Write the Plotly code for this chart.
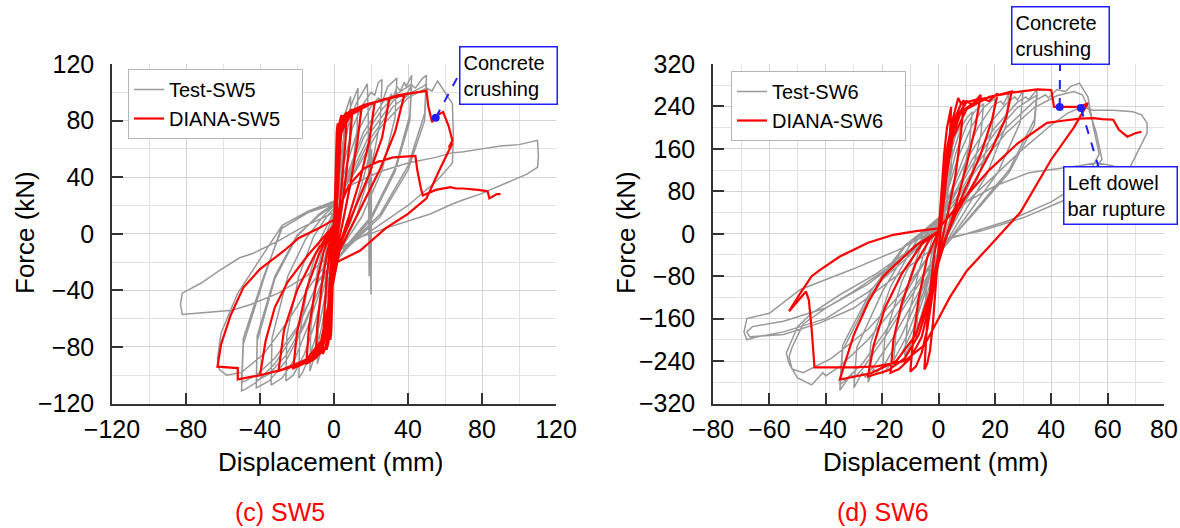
import plotly.graph_objects as go

# ---------------- DATA ----------------
# SW5 test (gray) hysteresis path, (displacement mm, force kN)
sw5_test = [
    (0, 0), (1, 28), (2, 45), (3, 54), (2.6, 38), (1.2, 8), (0, -8), (-1, -28), (-2, -42), (-3, -50), (-2.6, -32), (-1.2, -6), (0, 6),
    (1.5, 35), (3, 60), (4.5, 74), (5.5, 82), (5, 60), (3, 22), (1, -4), (0, -14), (-1.5, -38), (-3, -58), (-4.5, -70), (-5.5, -76), (-5, -55), (-3, -18), (-1, 2), (0, 10),
    (2, 45), (4, 70), (6, 85), (8, 94), (9, 97), (8.5, 70), (6, 32), (3, 5), (0, -14), (-2, -38), (-4, -62), (-6, -78), (-8.5, -90), (-9, -92), (-8.5, -64), (-6, -25), (-3, -2), (0, 12),
    (3, 48), (6, 75), (9, 90), (12, 99), (13, 103), (12.5, 74), (9, 36), (5, 8), (1, -10), (-2, -30), (-6, -62), (-9, -80), (-12, -94), (-13, -97), (-12.5, -66), (-9, -26), (-5, -3), (0, 14),
    (4, 50), (8, 78), (12, 92), (16, 102), (18, 106), (18.5, 85), (19, -30), (19.5, 70), (20, -43), (20.3, 60), (19, 55), (15, 35), (9, 8), (3, -8), (-3, -32), (-8, -65), (-13, -86), (-17, -98), (-19, -102), (-18.5, -70), (-13, -28), (-7, -3), (0, 16),
    (5, 48), (10, 75), (15, 90), (20, 100), (22, 98), (24, 107), (26, 109), (25, 80), (20, 45), (12, 12), (4, -8), (-4, -30), (-10, -62), (-16, -85), (-22, -100), (-26, -104), (-25.5, -72), (-19, -30), (-11, -2), (-4, 12), (0, 18),
    (6, 45), (12, 70), (20, 90), (24, 96), (26, 93), (29, 104), (32, 108), (34, 110), (33, 82), (26, 45), (15, 12), (5, -8), (-5, -30), (-13, -62), (-21, -88), (-28, -102), (-34, -107), (-33.5, -74), (-25, -30), (-15, -3), (-6, 12), (0, 20),
    (8, 45), (16, 72), (26, 92), (28, 96), (29, 93), (31, 99), (32, 96), (34, 104), (36, 101), (38, 107), (39, 104), (42, 112), (41, 84), (33, 46), (20, 12), (7, -8), (-6, -32), (-16, -65), (-26, -90), (-35, -104), (-42, -109), (-41.5, -76), (-32, -32), (-20, -2), (-8, 14), (0, 21),
    (8, 42), (16, 68), (26, 88), (34, 99), (40, 104), (42, 106), (41, 80), (33, 44), (20, 10), (7, -9), (-6, -33), (-16, -63), (-26, -86), (-35, -99), (-42, -104), (-41.5, -72), (-32, -30), (-20, -1), (-8, 13), (0, 20),
    (10, 45), (20, 72), (32, 94), (36, 98), (38, 96), (42, 105), (44, 103), (48, 110), (50, 112), (49, 85), (40, 48), (25, 14), (8, -8), (-8, -32), (-20, -68), (-32, -92), (-42, -105), (-48, -110), (-50, -111), (-49, -78), (-38, -32), (-28, 6), (-14, 16), (0, 22),
    (10, 42), (20, 68), (32, 90), (42, 100), (48, 104), (50, 106), (49, 80), (40, 45), (25, 12), (8, -9), (-8, -33), (-20, -66), (-32, -88), (-42, -100), (-48, -104), (-50, -105), (-49, -74), (-38, -30), (-28, 4), (-14, 15), (0, 21),
    (12, 45), (25, 75), (40, 96), (50, 103), (53, 101), (56, 108), (60, 100), (64, 92), (64.5, 70), (64, 50), (56, 38), (40, 20), (20, 2), (0, -14), (-12, -35), (-25, -62), (-38, -85), (-50, -98), (-58, -100), (-62, -96), (-63, -88), (-61, -70), (-52, -42), (-40, -18), (-28, 6), (-14, 16), (0, 23),
    (10, 35), (25, 44), (40, 50), (55, 54), (63, 57), (70, 58), (80, 60), (90, 62), (100, 63), (106, 65), (110, 66), (110.5, 55), (110, 47), (104, 42), (97, 38), (88, 33), (79, 28), (70, 24), (64, 21), (52, 14), (40, 9), (28, 4), (15, -2), (0, -12),
    (-15, -30), (-30, -42), (-45, -50), (-55, -54), (-63, -55), (-75, -56), (-82, -57), (-83, -50), (-82, -42), (-72, -35), (-62, -26), (-51, -17), (-44, -14), (-30, -5), (-18, 4), (0, 15),
]

# SW5 DIANA (red) path
sw5_diana = [
    (0, 0), (0.5, 30), (1, 55), (1.5, 72), (2, 78), (1.5, 52), (0.8, 20), (0, -5), (-0.5, -30), (-1, -55), (-1.5, -70), (-2, -75), (-1.6, -50), (-0.8, -15), (0, 5),
    (0.8, 35), (1.5, 60), (2.5, 76), (3.5, 82), (4, 84), (3.3, 60), (2, 30), (0.8, 0), (0, -18), (-1, -45), (-2, -65), (-3, -77), (-4, -82), (-3.5, -60), (-2.2, -28), (-1, -5), (0, 8),
    (1, 35), (2, 62), (3.5, 78), (5, 83), (7, 86), (6, 62), (4, 32), (1.8, 5), (0, -20), (-1.5, -48), (-3, -70), (-4.5, -80), (-6, -85), (-5.5, -62), (-4, -32), (-2, -8), (0, 8),
    (1, 32), (2.5, 64), (4, 78), (6, 83), (8, 86), (10, 88), (8.5, 64), (6, 36), (3, 8), (0, -18), (-2, -48), (-4, -70), (-6, -80), (-8, -85), (-10, -88), (-9, -64), (-6.5, -35), (-3.5, -12), (0, 6),
    (1.5, 35), (3, 68), (5, 80), (8, 85), (11, 88), (15, 90), (12.5, 64), (9, 36), (5, 10), (1, -15), (-2, -45), (-4, -70), (-7, -84), (-11, -89), (-15, -92), (-13.5, -66), (-10, -38), (-5.5, -12), (0, 6),
    (1.5, 35), (3, 68), (6, 82), (10, 87), (16, 91), (22, 93), (19, 65), (14, 38), (8, 12), (2, -12), (-2, -45), (-5, -72), (-9, -85), (-15, -91), (-22, -95), (-20, -70), (-15, -40), (-8, -14), (0, 6),
    (1.5, 35), (3.5, 70), (7, 82), (14, 89), (22, 93), (30, 96), (26, 68), (19, 42), (10, 14), (2, -12), (-2, -45), (-5, -72), (-10, -86), (-20, -93), (-30, -97), (-27, -68), (-20, -40), (-10, -14), (0, 6),
    (1.5, 35), (3.5, 70), (8, 83), (16, 90), (27, 95), (38, 98), (33, 72), (25, 46), (14, 17), (3, -12), (-2, -45), (-6, -74), (-12, -87), (-25, -95), (-40, -100), (-37, -76), (-32, -52), (-25, -34), (-14, -15), (0, 6),
    (1.5, 35), (4, 72), (9, 84), (20, 92), (35, 98), (50, 101), (51, 90), (53, 79), (56, 84), (59, 86), (62, 76), (64, 66), (62, 61), (64, 64), (57, 45), (50, 25), (40, 14), (28, 4), (14, -12), (0, -21),
    (-3, -50), (-7, -76), (-15, -89), (-28, -96), (-40, -100), (-52, -103), (-52, -95), (-63, -94), (-61, -78), (-56, -58), (-49, -38), (-40, -25), (-27, -12), (-19, -3), (-8, 4), (0, 10),
    (8, 34), (16, 46), (24, 51), (32, 54), (44, 55), (45, 45), (47, 32), (48, 27), (55, 31), (63, 33), (66, 32), (70, 32), (78, 31), (83, 30), (84, 25), (88, 28), (90, 28),
]

# SW6 test (gray) path
sw6_test = [
    (0, 0), (1, 50), (2, 90), (3, 120), (2.6, 80), (1.3, 20), (0, -20), (-1, -55), (-2, -90), (-3, -110), (-2.6, -70), (-1.2, -15), (0, 15),
    (1.5, 70), (3, 130), (4, 155), (5, 170), (4.4, 120), (2.5, 45), (0.5, -10), (-1, -55), (-2.5, -110), (-4, -145), (-5, -160), (-4.4, -110), (-2.5, -40), (-0.5, 10), (0, 18),
    (2, 80), (4, 145), (6, 185), (8, 205), (7.2, 150), (4.5, 60), (1.5, 0), (-1, -55), (-3, -115), (-5, -160), (-7, -190), (-8, -200), (-7.2, -145), (-4.5, -55), (-1.5, 5), (0, 20),
    (2.5, 80), (5, 150), (8, 200), (10, 218), (12, 230), (11, 170), (7.5, 80), (3, 10), (-1, -50), (-4, -115), (-7, -170), (-10, -210), (-12, -230), (-11, -165), (-7, -70), (-3, 0), (0, 22),
    (3, 80), (6, 150), (10, 205), (13, 232), (16, 245), (15, 185), (11, 95), (5, 20), (-1, -45), (-5, -115), (-9, -180), (-13, -225), (-16, -250), (-15, -180), (-10, -80), (-5, -5), (0, 25),
    (3, 75), (7, 145), (12, 205), (16, 238), (20, 255), (19, 195), (14, 105), (6, 25), (-1, -45), (-6, -120), (-11, -190), (-16, -240), (-20, -265), (-19, -195), (-13, -90), (-6, -10), (0, 28),
    (4, 75), (9, 145), (14, 200), (19, 240), (22, 250), (23, 244), (25, 265), (24, 205), (17, 110), (8, 30), (0, -40), (-7, -120), (-13, -190), (-19, -245), (-22, -262), (-23, -255), (-25, -280), (-24, -205), (-17, -100), (-8, -15), (0, 28),
    (4, 70), (10, 140), (17, 200), (24, 245), (27, 258), (28, 252), (30, 270), (29, 210), (21, 115), (10, 35), (0, -40), (-8, -120), (-16, -195), (-23, -250), (-26, -270), (-27, -262), (-30, -290), (-29, -215), (-20, -110), (-10, -20), (0, 30),
    (5, 70), (12, 140), (20, 200), (28, 248), (31, 258), (32, 253), (35, 272), (34, 215), (25, 120), (12, 38), (0, -38), (-10, -120), (-19, -195), (-27, -255), (-30, -272), (-31, -265), (-35, -295), (-34, -220), (-24, -115), (-12, -25), (0, 30),
    (5, 65), (12, 130), (20, 190), (28, 238), (35, 262), (34, 205), (25, 115), (12, 35), (0, -35), (-10, -112), (-19, -185), (-27, -245), (-35, -285), (-34, -210), (-24, -108), (-12, -22), (0, 28),
    (6, 65), (14, 135), (24, 200), (34, 250), (38, 262), (39, 256), (42, 272), (45, 268), (47, 278), (50, 284), (53, 258), (55, 200), (57, 150), (53, 110), (45, 64), (30, 30), (15, 5), (0, -11),
    (-12, -115), (-25, -200), (-35, -250), (-40, -268), (-41, -262), (-45, -285), (-50, -272), (-53, -245), (-54, -225), (-50, -175), (-45, -150), (-35, -115), (-22, -75), (-10, -30), (0, 15),
    (6, 60), (14, 125), (24, 190), (34, 238), (42, 260), (48, 268), (51, 262), (53, 240), (56, 190), (58, 140), (52, 100), (40, 60), (25, 25), (10, 0), (0, -15),
    (-12, -105), (-25, -180), (-38, -235), (-48, -262), (-52, -255), (-53, -232), (-52, -215), (-48, -170), (-40, -140), (-30, -108), (-18, -65), (-8, -25), (0, 12),
    (10, 60), (20, 110), (30, 160), (40, 205), (46, 228), (51, 239), (55, 233), (62, 233), (69, 230), (72, 224), (74, 209), (74, 190), (71.5, 164), (68, 126), (64, 102),
    (62, 128), (56, 134), (50, 128), (44, 124), (38, 120), (32, 115), (20, 90), (10, 60), (0, 20),
    (-10, -40), (-25, -110), (-40, -160), (-55, -185), (-65, -195), (-68, -200), (-69, -185), (-68, -160), (-60, -150), (-49, -105), (-37, -81), (-31, -68), (-14, -30), (0, 10),
    (-10, -35), (-25, -95), (-40, -140), (-55, -165), (-66, -175), (-68, -185), (-67, -194), (-55, -190), (-42, -168), (-30, -140), (-15, -80), (0, -20),
]

# SW6 DIANA (red) path
sw6_diana = [
    (0, 0), (1, 80), (2, 150), (3, 200), (4, 230), (4.5, 239), (4, 180), (2.5, 90), (1, 20), (0, -30), (-1, -100), (-2, -170), (-3, -220), (-4, -245), (-5, -256), (-4.3, -190), (-3, -110), (-1.5, -40), (0, 5),
    (1.5, 80), (3, 160), (5, 215), (6.5, 245), (7, 256), (8, 245), (9, 252), (8, 190), (6, 110), (3, 30), (0, -40), (-2, -110), (-4, -180), (-6, -225), (-8, -250), (-10, -260), (-9, -200), (-7, -120), (-4, -45), (0, 5),
    (1.5, 80), (3.5, 165), (6, 220), (8, 245), (10, 250), (12, 243), (15, 262), (13, 200), (10, 130), (6, 50), (2, -20), (0, -55), (-3, -130), (-6, -195), (-10, -235), (-14, -255), (-17, -262), (-16, -200), (-13, -130), (-8, -55), (-3, -10), (0, 5),
    (2, 80), (4, 170), (7, 225), (10, 248), (15, 255), (18, 250), (21, 265), (19, 215), (15, 150), (10, 90), (5, 30), (0, -45), (-3, -120), (-7, -190), (-12, -235), (-18, -258), (-25, -269), (-23, -210), (-19, -140), (-13, -75), (-6, -20), (0, 5),
    (2, 80), (4, 170), (8, 230), (14, 252), (20, 260), (26, 268), (24, 220), (19, 160), (13, 100), (6, 35), (0, -40), (-3, -110), (-8, -190), (-15, -240), (-24, -263), (-35, -275), (-33, -240), (-30, -190), (-25, -130), (-19.7, -81), (-16, -62), (-8, -22), (0, 5),
    (2, 80), (5, 180), (10, 235), (18, 258), (26, 266), (35, 272), (40, 271), (41, 239), (43, 239), (50, 239), (53, 246), (48, 200), (40, 140), (29, 40), (18, -24), (10, -70), (4, -120), (0, -160),
    (-5, -210), (-12, -240), (-22, -250), (-30, -252), (-37.5, -252), (-44, -252), (-45, -180), (-46, -125), (-47, -109), (-50, -128), (-53, -146), (-49, -112), (-45, -80), (-42, -68), (-35, -43), (-25, -17), (-16, -2), (-8, 5), (0, 10),
    (8, 60), (18, 120), (28, 170), (38.5, 209), (44, 213), (50, 217), (55, 218), (58, 216), (62, 215), (64, 196), (67, 183), (70, 190), (72, 192),
]

# annotation markers (events)
sw5_crush_pt = (55, 82)
sw6_crush_pt = (43, 239)
sw6_rupture_pt = (50.5, 237)

# axis ticks
sw5_xticks = [-120, -80, -40, 0, 40, 80, 120]
sw5_yticks = [-120, -80, -40, 0, 40, 80, 120]
sw6_xticks = [-80, -60, -40, -20, 0, 20, 40, 60, 80]
sw6_yticks = [-320, -240, -160, -80, 0, 80, 160, 240, 320]

# ---------------- FIGURE ----------------
W, H = 1180, 528
FONT = "Liberation Sans, Arial, sans-serif"
GRAY = "#999999"
RED = "#ff0000"
BLUE = "#1f1fff"
PAD = "&nbsp;&nbsp;&nbsp;"


def px(xp):
    return xp / W


def py(yp):
    return 1 - yp / H


fig = go.Figure()


def add_series(pts, name, color, width, xa, ya, leg):
    fig.add_trace(go.Scatter(
        x=[p[0] for p in pts], y=[p[1] for p in pts], mode="lines", name=name,
        line=dict(color=color, width=width), xaxis=xa, yaxis=ya, legend=leg,
        hoverinfo="skip"))


add_series(sw5_test, "Test-SW5", GRAY, 1.5, "x", "y", "legend")
add_series(sw5_diana, "DIANA-SW5" + PAD, RED, 2.2, "x", "y", "legend")
add_series(sw6_test, "Test-SW6", GRAY, 1.5, "x2", "y2", "legend2")
add_series(sw6_diana, "DIANA-SW6" + PAD, RED, 2.2, "x2", "y2", "legend2")

# event markers + dashed leaders
fig.add_trace(go.Scatter(x=[sw5_crush_pt[0]], y=[sw5_crush_pt[1]], mode="markers",
                         marker=dict(color=BLUE, size=8), showlegend=False, xaxis="x", yaxis="y"))
fig.add_trace(go.Scatter(x=[sw6_crush_pt[0], sw6_rupture_pt[0]], y=[sw6_crush_pt[1], sw6_rupture_pt[1]],
                         mode="markers", marker=dict(color=BLUE, size=8), showlegend=False,
                         xaxis="x2", yaxis="y2"))

shapes = [
    dict(type="line", xref="x", yref="y", x0=sw5_crush_pt[0], y0=sw5_crush_pt[1], x1=66.5, y1=110,
         line=dict(color=BLUE, width=2, dash="dash")),
    dict(type="line", xref="x2", yref="y2", x0=sw6_crush_pt[0], y0=sw6_crush_pt[1], x1=43.1, y1=318,
         line=dict(color=BLUE, width=2, dash="dash")),
    dict(type="line", xref="x2", yref="y2", x0=sw6_rupture_pt[0], y0=sw6_rupture_pt[1], x1=56.9, y1=124,
         line=dict(color=BLUE, width=2, dash="dash")),
]

axis_common = dict(
    showgrid=True, gridcolor="#d4d4d4", gridwidth=1,
    zeroline=False, showline=True, linecolor="#333333", linewidth=1.5,
    ticks="inside", ticklen=11, tickwidth=1.5, tickcolor="#333333",
    tickfont=dict(family=FONT, size=25, color="black"),
    mirror=False, fixedrange=True, automargin=False,
)

ydom = [py(403.5), py(64)]
fig.update_layout(
    width=W, height=H, margin=dict(l=0, r=0, t=0, b=0),
    paper_bgcolor="white", plot_bgcolor="white",
    font=dict(family=FONT, color="black"),
    xaxis=dict(domain=[px(112), px(556)], range=[-120, 120], tickvals=sw5_xticks,
               minor=dict(dtick=20, tick0=0, showgrid=True, gridcolor="#e2e2e2", ticks=""),
               anchor="y", ticklabelstandoff=3, **axis_common),
    yaxis=dict(domain=ydom, range=[-120, 120], tickvals=sw5_yticks,
               minor=dict(dtick=20, tick0=0, showgrid=True, gridcolor="#e2e2e2", ticks=""),
               anchor="x", ticklabelstandoff=11, **axis_common),
    xaxis2=dict(domain=[px(713), px(1164)], range=[-80, 80], tickvals=sw6_xticks,
                minor=dict(dtick=10, tick0=0, showgrid=True, gridcolor="#e2e2e2", ticks=""),
                anchor="y2", ticklabelstandoff=3, **axis_common),
    yaxis2=dict(domain=ydom, range=[-320, 320], tickvals=sw6_yticks,
                minor=dict(dtick=40, tick0=0, showgrid=True, gridcolor="#e2e2e2", ticks=""),
                anchor="x2", ticklabelstandoff=11, **axis_common),
    legend=dict(x=px(128), y=py(69), xanchor="left", yanchor="top",
                bgcolor="white", bordercolor="#b5b5b5", borderwidth=1,
                font=dict(family=FONT, size=20, color="black"), tracegroupgap=0),
    legend2=dict(x=px(731), y=py(71), xanchor="left", yanchor="top",
                 bgcolor="white", bordercolor="#b5b5b5", borderwidth=1,
                 font=dict(family=FONT, size=20, color="black"), tracegroupgap=0),
    shapes=shapes,
    showlegend=True,
)

ann = []
ctr = dict(xref="paper", yref="paper", xanchor="center", yanchor="middle", showarrow=False)
# axis titles
for cx in (330, 935):
    ann.append(dict(text="Displacement (mm)", x=px(cx), y=py(462),
                    font=dict(family=FONT, size=26, color="black"), **ctr))
for cx in (25, 626):
    ann.append(dict(text="Force (kN)", x=px(cx), y=py(233), textangle=-90,
                    font=dict(family=FONT, size=26, color="black"), **ctr))
# panel captions
ann.append(dict(text="(c) SW5", x=px(280), y=py(512), font=dict(family=FONT, size=25, color=RED), **ctr))
ann.append(dict(text="(d) SW6", x=px(883), y=py(512), font=dict(family=FONT, size=25, color=RED), **ctr))
# event labels
box = dict(bgcolor="white", bordercolor=BLUE, borderwidth=1.5, borderpad=3, align="left",
           font=dict(family=FONT, size=20, color="black"), **ctr)
ann.append(dict(text="Concrete<br>crushing", x=px(508), y=py(75.5), width=90, height=50, **box))
ann.append(dict(text="Concrete<br>crushing", x=px(1060.5), y=py(35), width=90, height=50, **box))
ann.append(dict(text="Left dowel<br>bar rupture", x=px(1120.5), y=py(195.5), width=106, height=50, **box))
fig.update_layout(annotations=ann)

fig.write_html("out.html", config={"displayModeBar": False},
               post_script="document.body.style.margin='0px';")
